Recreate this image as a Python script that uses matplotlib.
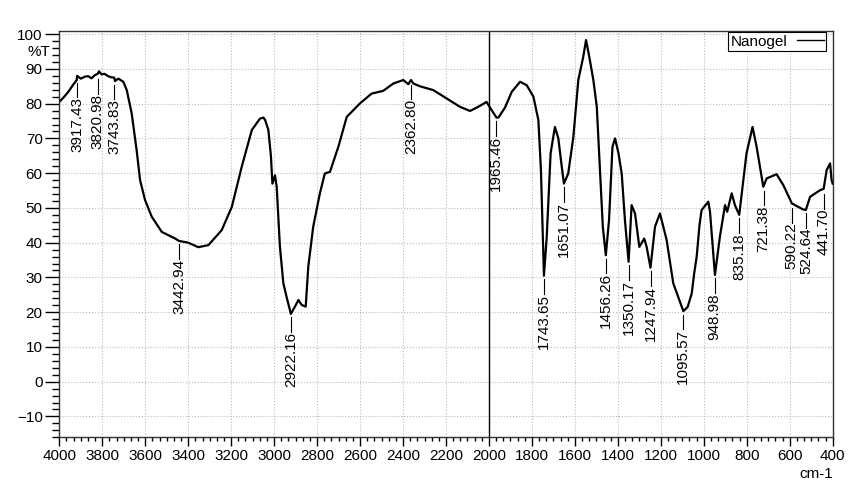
import matplotlib
matplotlib.use("Agg")
import matplotlib.pyplot as plt
from matplotlib.ticker import MultipleLocator
from matplotlib.lines import Line2D

plt.rcParams['font.family'] = ['Liberation Sans', 'DejaVu Sans']

# spectrum (wavenumber cm-1, %T)
wavenumber = [4000, 3980, 3958, 3935, 3919, 3917, 3900, 3880, 3865, 3850, 3835, 3821, 3815, 3803,
              3790, 3775, 3760, 3744, 3741, 3725, 3702, 3686, 3663, 3640, 3624, 3601, 3570, 3523,
              3461, 3443, 3400, 3353, 3306, 3244, 3197, 3151, 3104, 3066, 3050, 3042, 3027, 3015,
              3008, 2996, 2988, 2973, 2957, 2942, 2922, 2903, 2887, 2872, 2853, 2841, 2818, 2787,
              2764, 2740, 2701, 2662, 2600, 2546, 2492, 2445, 2399, 2375, 2363, 2352, 2321, 2259,
              2197, 2135, 2088, 2050, 2011, 1987, 1965, 1956, 1925, 1894, 1855, 1824, 1793, 1770,
              1758, 1744, 1731, 1713, 1693, 1677, 1661, 1651, 1631, 1607, 1584, 1561, 1548, 1533,
              1514, 1498, 1483, 1470, 1456, 1441, 1425, 1413, 1397, 1382, 1367, 1350, 1336, 1320,
              1300, 1277, 1266, 1248, 1227, 1204, 1173, 1142, 1114, 1095, 1075, 1056, 1045, 1033,
              1020, 1010, 979, 971, 960, 948, 925, 901, 891, 870, 855, 835, 816, 801, 773, 754,
              723, 707, 661, 630, 590, 539, 525, 505, 459, 442, 428, 412, 405, 400]
transmittance = [80.5, 81.8, 83.4, 85.5, 86.8, 88.0, 87.2, 87.8, 87.9, 87.3, 88.2, 88.6, 89.3, 88.4,
                 88.6, 88.0, 87.6, 87.5, 86.5, 87.2, 86.3, 83.9, 77.2, 66.6, 58.0, 52.3, 47.5, 43.1,
                 41.2, 40.5, 40.0, 38.7, 39.3, 43.6, 50.3, 61.8, 72.4, 75.7, 76.0, 75.3, 72.5, 65.0,
                 57.0, 59.4, 56.1, 38.8, 28.3, 24.4, 19.5, 21.6, 23.5, 22.1, 21.6, 33.1, 44.6, 54.2,
                 59.9, 60.4, 67.6, 76.2, 80.1, 82.9, 83.7, 85.8, 86.8, 85.6, 86.8, 85.8, 85.0, 83.9,
                 81.5, 79.1, 77.9, 79.1, 80.5, 78.1, 76.0, 76.0, 78.9, 83.4, 86.3, 85.3, 82.0, 75.3,
                 60.9, 30.5, 41.7, 65.7, 73.3, 70.0, 61.8, 57.0, 59.9, 70.5, 86.8, 93.5, 98.3, 93.5,
                 86.8, 79.1, 60.9, 44.6, 36.4, 46.5, 67.6, 70.0, 65.7, 59.9, 46.5, 34.5, 50.8, 48.4,
                 38.8, 41.2, 38.8, 32.8, 44.6, 48.4, 40.8, 28.3, 23.5, 20.3, 21.5, 25.4, 31.0, 36.0,
                 45.0, 49.4, 51.8, 48.9, 40.0, 30.7, 41.7, 50.8, 48.9, 54.2, 50.8, 48.0, 58.0, 65.7,
                 73.3, 67.6, 56.1, 58.5, 59.7, 56.6, 51.3, 49.6, 49.4, 53.2, 55.1, 55.5, 60.9, 62.8,
                 58.0, 57.0]

# labelled peaks
peak_pos = [3917.43, 3820.98, 3743.83, 3442.94, 2922.16, 2362.80, 1965.46, 1743.65, 1651.07,
            1456.26, 1350.17, 1247.94, 1095.57, 948.98, 835.18, 721.38, 590.22, 524.64, 441.70]
peak_val = [87.0, 88.0, 86.5, 40.5, 19.5, 86.5, 76.0, 30.5, 57.0,
            36.4, 34.5, 32.8, 20.3, 30.7, 48.0, 56.0, 51.0, 49.5, 55.0]

fig = plt.figure(figsize=(8.67, 4.91), dpi=100)
ax = fig.add_axes([0.0684, 0.1094, 0.892, 0.8281])

ax.plot(wavenumber, transmittance, color='black', lw=1.6, label='Nanogel')
ax.axvline(2000, color='black', lw=1.0)

for wn, t in zip(peak_pos, peak_val):
    ax.plot([wn, wn], [t - 1.0, t - 5.2], color='black', lw=0.8)
    ax.text(wn, t - 5.2, f"{wn:.2f}", rotation=90, ha='center', va='top', fontsize=11)

ax.set_xlim(4000, 400)
ax.set_ylim(-16, 101)
ax.xaxis.set_major_locator(MultipleLocator(200))
ax.xaxis.set_minor_locator(MultipleLocator(200 / 6))
ax.yaxis.set_major_locator(MultipleLocator(10))
ax.yaxis.set_minor_locator(MultipleLocator(2))
ax.tick_params(axis='x', which='major', length=6.5, width=1, labelsize=11, pad=2)
ax.tick_params(axis='x', which='minor', length=3.2, width=1)
ax.tick_params(axis='y', which='major', length=10, width=1, labelsize=11, pad=2)
ax.tick_params(axis='y', which='minor', length=5, width=1)
ax.grid(True, which='major', color='#bbbbbb', linestyle=':', lw=0.8)
for s in ax.spines.values():
    s.set_color('#333333')
    s.set_linewidth(1.0)

ax.text(-0.012, 95, "%T", transform=ax.get_yaxis_transform(), ha='right', va='center', fontsize=11)
ax.text(1.0, -0.09, "cm-1", transform=ax.transAxes, ha='right', va='center', fontsize=11)

h = Line2D([], [], color='black', lw=1.0)
leg = ax.legend([h], ['Nanogel'], loc='upper right', bbox_to_anchor=(0.994, 1.0),
                markerfirst=False, fancybox=False, framealpha=1, edgecolor='black',
                fontsize=11, handlelength=1.8, handletextpad=0.6, borderpad=0.15,
                borderaxespad=0.1)
leg.get_frame().set_linewidth(0.8)

fig.savefig("out.png", dpi=100)
